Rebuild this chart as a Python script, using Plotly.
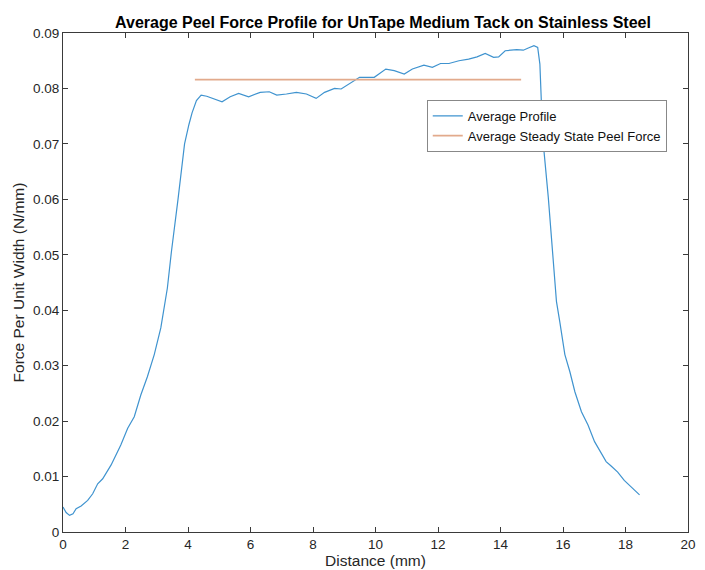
import plotly.graph_objects as go

# Average profile (distance mm, force N/mm)
distance = [0.0, 0.05, 0.1, 0.21, 0.32, 0.42, 0.58, 0.79, 0.95, 1.11, 1.27, 1.54, 1.85, 2.07, 2.28,
            2.49, 2.7, 2.92, 3.13, 3.34, 3.47, 3.68, 3.89, 4.03, 4.13, 4.27, 4.42, 4.6, 4.82, 5.09,
            5.35, 5.62, 5.94, 6.31, 6.6, 6.84, 7.15, 7.47, 7.79, 8.1, 8.37, 8.69, 8.9, 9.17, 9.49,
            9.96, 10.33, 10.6, 10.92, 11.18, 11.55, 11.82, 12.08, 12.35, 12.67, 12.98, 13.25, 13.51,
            13.78, 13.94, 14.15, 14.52, 14.73, 14.89, 15.07, 15.19, 15.26, 15.31, 15.37, 15.53,
            15.68, 15.79, 15.9, 16.06, 16.22, 16.38, 16.59, 16.8, 17.01, 17.17, 17.38, 17.54,
            17.75, 17.96, 18.23, 18.45]
force = [0.0045, 0.0040, 0.0035, 0.0030, 0.0033, 0.0042, 0.0047, 0.0057, 0.0069, 0.0087, 0.0096,
         0.0121, 0.0157, 0.0187, 0.0208, 0.0247, 0.0280, 0.0320, 0.0368, 0.0440, 0.0506, 0.0600,
         0.0700, 0.0735, 0.0756, 0.0778, 0.0788, 0.0786, 0.0782, 0.0776, 0.0785, 0.0791, 0.0785,
         0.0793, 0.0794, 0.0788, 0.0790, 0.0793, 0.0790, 0.0782, 0.0793, 0.0800, 0.0799, 0.0808,
         0.0820, 0.0820, 0.0835, 0.0832, 0.0826, 0.0835, 0.0842, 0.0838, 0.0845, 0.0845, 0.0850,
         0.0853, 0.0857, 0.0863, 0.0856, 0.0857, 0.0868, 0.0870, 0.0869, 0.0873, 0.0877, 0.0874,
         0.0844, 0.0772, 0.0700, 0.0603, 0.0494, 0.0416, 0.0378, 0.0320, 0.0289, 0.0253, 0.0217,
         0.0193, 0.0163, 0.0148, 0.0127, 0.0119, 0.0108, 0.0093, 0.0078, 0.0067]

# Average steady state peel force
steady_x = [4.22, 14.66]
steady_force = [0.0816, 0.0816]

x_ticks = [0, 2, 4, 6, 8, 10, 12, 14, 16, 18, 20]
y_ticks = [0, 0.01, 0.02, 0.03, 0.04, 0.05, 0.06, 0.07, 0.08, 0.09]
y_tick_labels = ["0", "0.01", "0.02", "0.03", "0.04", "0.05", "0.06", "0.07", "0.08", "0.09"]

fig = go.Figure()
fig.add_trace(go.Scatter(x=distance, y=force, mode="lines", name="Average Profile",
                         line=dict(color="#3f93cf", width=1.2)))
fig.add_trace(go.Scatter(x=steady_x, y=steady_force, mode="lines",
                         name="Average Steady State Peel Force",
                         line=dict(color="#e2aa8c", width=1.8)))

axis_common = dict(showline=True, linecolor="#3a3a3a", linewidth=1, mirror="ticks",
                   ticks="inside", ticklen=5, tickcolor="#3a3a3a", showgrid=False,
                   zeroline=False, automargin=False,
                   tickfont=dict(family="Liberation Sans", size=13.5, color="#262626"))

# page body has an 8px margin, so the figure is sized to fit inside the window
fig.update_layout(
    width=697, height=562,
    margin=dict(l=55, r=17, t=25, b=38),
    paper_bgcolor="white", plot_bgcolor="white",
    font=dict(family="Liberation Sans", color="#262626"),
    title=dict(text="<b>Average Peel Force Profile for UnTape Medium Tack on Stainless Steel</b>",
               x=0.538, xanchor="center", y=1 - 14 / 562, yanchor="middle",
               font=dict(size=16, color="#000000")),
    xaxis=dict(range=[0, 20], tickvals=x_ticks, ticklabeloverflow="allow", **axis_common,
               title=dict(text="Distance (mm)", font=dict(size=15.5), standoff=1)),
    yaxis=dict(range=[0, 0.09], tickvals=y_ticks, ticktext=y_tick_labels, **axis_common,
               title=dict(text="Force Per Unit Width (N/mm)", font=dict(size=15.5), standoff=4)),
    legend=dict(x=0.582, y=0.866, xanchor="left", yanchor="top",
                bgcolor="white", bordercolor="#888888", borderwidth=1,
                font=dict(family="Liberation Sans", size=13, color="#111111"),
                tracegroupgap=0, itemwidth=30),
    showlegend=True,
)

fig.write_html("out.html")
